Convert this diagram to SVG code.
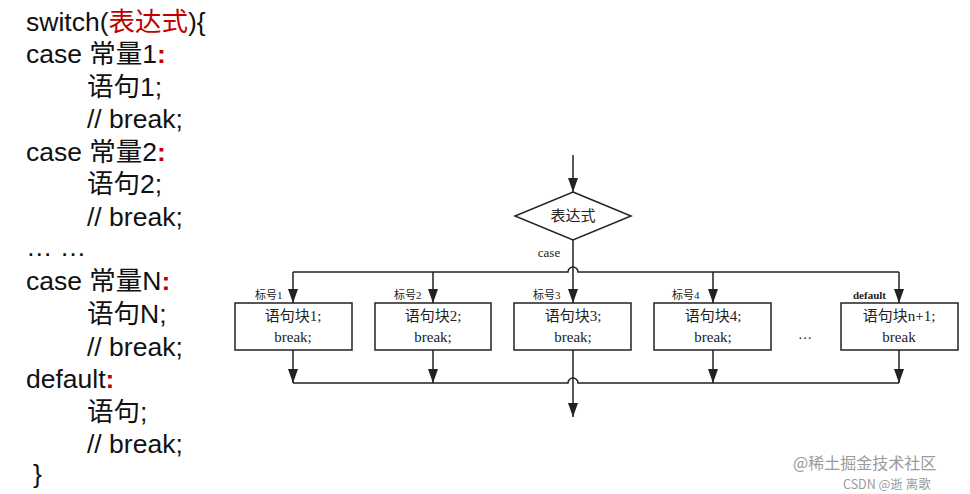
<svg xmlns="http://www.w3.org/2000/svg" width="970" height="494" viewBox="0 0 970 494">
<style>
.code{font-family:"Liberation Sans","Noto Sans CJK SC",sans-serif;font-size:26.5px;fill:#111}
.red{fill:#c00000}
.b{font-weight:bold}
.fc{font-family:"Liberation Serif","Noto Sans CJK SC",serif;fill:#222}
.box{fill:#fff;stroke:#222;stroke-width:1.5}
.ln{fill:none;stroke:#222;stroke-width:1.5}
.lbl{font-size:11px}
.bt{font-size:15px;text-anchor:middle}
.wm{font-family:"Noto Sans CJK SC","Liberation Sans",sans-serif;fill:#9a9a9a}
</style>
<defs>
<marker id="ah" markerUnits="userSpaceOnUse" markerWidth="14" markerHeight="10" refX="14" refY="5" orient="auto">
<path d="M0,0 L14,5 L0,10 z" fill="#222"/>
</marker>
</defs>
<rect width="970" height="494" fill="#fff"/>
<g id="code">
<text class="code" x="26" y="31">switch(<tspan class="red">表达式</tspan>){</text>
<text class="code" x="26" y="63">case 常量1<tspan class="red b">:</tspan></text>
<text class="code" x="87" y="96">语句1;</text>
<text class="code" x="87" y="128">// break;</text>
<text class="code" x="26" y="161">case 常量2<tspan class="red b">:</tspan></text>
<text class="code" x="87" y="193">语句2;</text>
<text class="code" x="87" y="226">// break;</text>
<text class="code" x="26" y="256">… …</text>
<text class="code" x="26" y="290">case 常量N<tspan class="red b">:</tspan></text>
<text class="code" x="87" y="323">语句N;</text>
<text class="code" x="87" y="356">// break;</text>
<text class="code" x="26" y="388">default<tspan class="red b">:</tspan></text>
<text class="code" x="87" y="421">语句;</text>
<text class="code" x="87" y="453">// break;</text>
<text class="code" x="33" y="483">}</text>
</g>
<g id="connectors">
<line class="ln" x1="573" y1="155" x2="573" y2="192" marker-end="url(#ah)"/>
<line class="ln" x1="573" y1="240" x2="573" y2="303" marker-end="url(#ah)"/>
<path class="ln" d="M293,272 H568 A5,5 0 0 1 578,272 H899"/>
<line class="ln" x1="293" y1="272" x2="293" y2="303" marker-end="url(#ah)"/>
<line class="ln" x1="433" y1="272" x2="433" y2="303" marker-end="url(#ah)"/>
<line class="ln" x1="713" y1="272" x2="713" y2="303" marker-end="url(#ah)"/>
<line class="ln" x1="899" y1="272" x2="899" y2="303" marker-end="url(#ah)"/>
<line class="ln" x1="293" y1="350" x2="293" y2="383" marker-end="url(#ah)"/>
<line class="ln" x1="433" y1="350" x2="433" y2="383" marker-end="url(#ah)"/>
<line class="ln" x1="713" y1="350" x2="713" y2="383" marker-end="url(#ah)"/>
<line class="ln" x1="899" y1="350" x2="899" y2="383" marker-end="url(#ah)"/>
<path class="ln" d="M293,383 H568 A5,5 0 0 1 578,383 H899"/>
<line class="ln" x1="573" y1="350" x2="573" y2="417" marker-end="url(#ah)"/>
<text class="fc" x="549" y="257" font-size="13" text-anchor="middle">case</text>
<text class="fc lbl" x="255" y="299">标号1</text>
<text class="fc lbl" x="394" y="299">标号2</text>
<text class="fc lbl" x="533" y="299">标号3</text>
<text class="fc lbl" x="672" y="299">标号4</text>
<text class="fc lbl" x="853" y="299" font-weight="bold">default</text>
</g>
<g id="diamond">
<polygon class="box" points="573,192 631,216 573,240 515,216"/>
<text class="fc" x="573" y="221" font-size="15" text-anchor="middle">表达式</text>
</g>
<g id="block1">
<rect class="box" x="235" y="303" width="117" height="47"/>
<text class="fc bt" x="293" y="321">语句块1;</text>
<text class="fc bt" x="293" y="342">break;</text>
</g>
<g id="block2">
<rect class="box" x="375" y="303" width="116" height="47"/>
<text class="fc bt" x="433" y="321">语句块2;</text>
<text class="fc bt" x="433" y="342">break;</text>
</g>
<g id="block3">
<rect class="box" x="514" y="303" width="117" height="47"/>
<text class="fc bt" x="573" y="321">语句块3;</text>
<text class="fc bt" x="573" y="342">break;</text>
</g>
<g id="block4">
<rect class="box" x="654" y="303" width="117" height="47"/>
<text class="fc bt" x="713" y="321">语句块4;</text>
<text class="fc bt" x="713" y="342">break;</text>
</g>
<g id="ellipsis">
<text class="fc" x="805" y="339" font-size="14" text-anchor="middle">…</text>
</g>
<g id="block5">
<rect class="box" x="841" y="303" width="117" height="47"/>
<text class="fc bt" x="899" y="321">语句块n+1;</text>
<text class="fc bt" x="899" y="342">break</text>
</g>
<g id="watermark">
<text class="wm" x="793" y="469" font-size="16">@稀土掘金技术社区</text>
<text class="wm" x="843" y="489" font-size="12.5">CSDN @逝 离歌</text>
</g>
</svg>
